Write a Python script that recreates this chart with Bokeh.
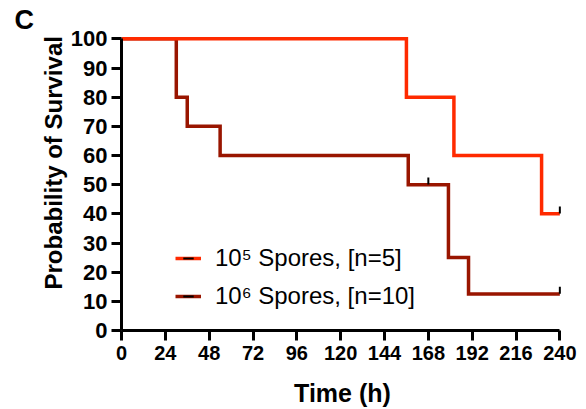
import numpy as np
from bokeh.plotting import figure
from bokeh.models import Range1d, FixedTicker, Legend, LegendItem, Title
from bokeh.embed import file_html
from bokeh.resources import INLINE

# Kaplan-Meier step data (time in hours, survival %)
t5 = [0, 156, 182, 230, 240]
s5 = [100, 80, 60, 40, 40]
cens5_t = [240]
cens5_s = [40]

t6 = [0, 30, 36, 54, 157, 179, 190, 240]
s6 = [100, 80, 70, 60, 50, 25, 12.5, 12.5]
cens6_t = [168, 240]
cens6_s = [50, 12.5]

x_ticks = [0, 24, 48, 72, 96, 120, 144, 168, 192, 216, 240]
y_ticks = [0, 10, 20, 30, 40, 50, 60, 70, 80, 90, 100]

label5 = "10\u2075 Spores, [n=5]"
label6 = "10\u2076 Spores, [n=10]"

c5 = "#FF2A00"
c6 = "#991500"

p = figure(width=586, height=409, output_backend="svg", toolbar_location=None,
           x_range=Range1d(0, 242), y_range=Range1d(0, 101.5),
           min_border_left=121, min_border_right=23, min_border_top=34, min_border_bottom=78)
p.outline_line_color = None
p.grid.visible = False
p.background_fill_color = "white"

def km_xy(t, s):
    xs, ys = [], []
    for i in range(len(t) - 1):
        xs += [t[i], t[i + 1]]
        ys += [s[i], s[i]]
    return xs, ys

x5, y5 = km_xy(t5, s5)
x6, y6 = km_xy(t6, s6)

r6 = p.line(x6, y6, line_color=c6, line_width=3.5, line_join="miter")
r5 = p.line(x5, y5, line_color=c5, line_width=3.5, line_join="miter")

off = 1.3
m5 = p.scatter(cens5_t, [v + off for v in cens5_s], marker="dash", angle=np.pi / 2, size=7,
               line_color="black", line_width=2)
m6 = p.scatter(cens6_t, [v + off for v in cens6_s], marker="dash", angle=np.pi / 2, size=7,
               line_color="black", line_width=2)

legend = Legend(items=[LegendItem(label=label5, renderers=[r5, m5]),
                       LegendItem(label=label6, renderers=[r6, m6])],
                location=(54, 20), padding=0, margin=0, spacing=10,
                glyph_width=26, glyph_height=26, label_height=26, label_standoff=14,
                label_text_font="Liberation Sans", label_text_font_size="24px",
                label_text_color="black",
                border_line_color=None, background_fill_alpha=0)
p.add_layout(legend)

for ax in (p.xaxis, p.yaxis):
    ax.axis_line_width = 3
    ax.axis_line_color = "black"
    ax.major_tick_line_width = 3
    ax.major_tick_line_color = "black"
    ax.major_tick_out = 10
    ax.major_tick_in = 0
    ax.minor_tick_line_color = None
    ax.major_label_text_font = "Liberation Sans"
    ax.major_label_text_font_style = "bold"
    ax.major_label_text_color = "black"
    ax.axis_label_text_font = "Liberation Sans"
    ax.axis_label_text_font_style = "bold"
    ax.axis_label_text_color = "black"

p.xaxis.ticker = FixedTicker(ticks=x_ticks)
p.yaxis.ticker = FixedTicker(ticks=y_ticks)
p.xaxis.bounds = (0, 240)
p.yaxis.bounds = (0, 100)
p.xaxis.major_label_text_font_size = "20px"
p.yaxis.major_label_text_font_size = "22px"
p.xaxis.major_label_standoff = 5
p.yaxis.major_label_standoff = 4
p.xaxis.axis_label = "Time (h)"
p.xaxis.axis_label_text_font_size = "25px"
p.xaxis.axis_label_standoff = 16

p.add_layout(Title(text="Probability of Survival", align="left", offset=41, standoff=2,
                   text_font="Liberation Sans", text_font_style="bold",
                   text_font_size="24px", text_color="black"), "left")

p.title.text = "C"
p.title.align = "left"
p.title.offset = -107
p.title.standoff = 0
p.title.text_font = "Liberation Sans"
p.title.text_font_style = "bold"
p.title.text_font_size = "27px"
p.title.text_color = "black"

open("out.html", "w").write(file_html(p, INLINE))
